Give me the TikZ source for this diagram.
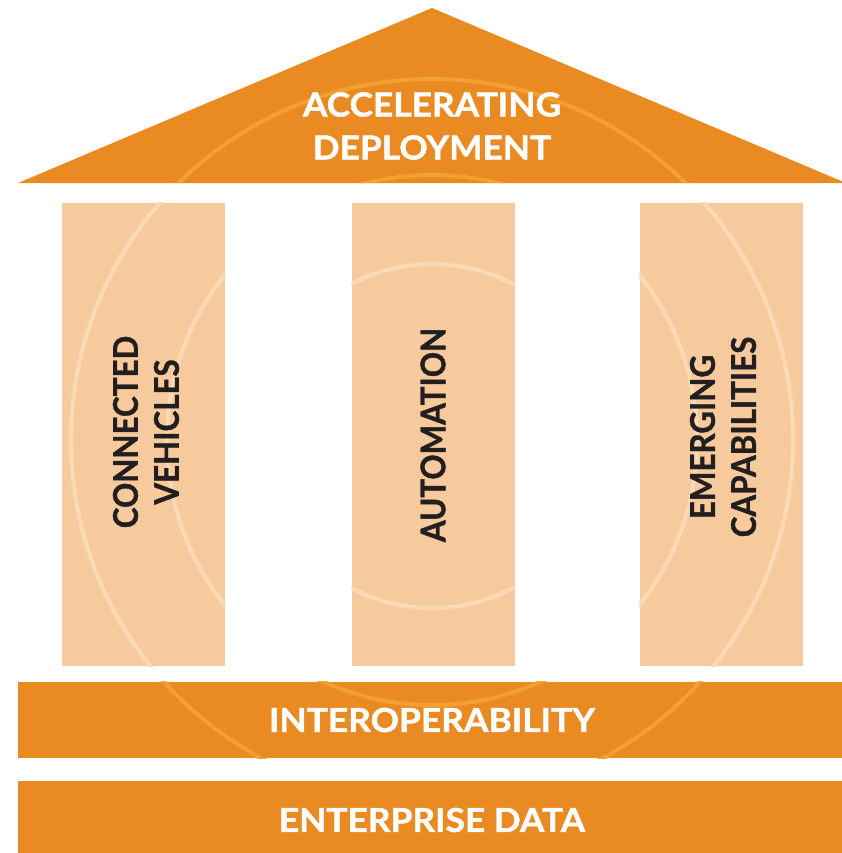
\documentclass[tikz,border=0pt]{standalone}
\usepackage{fontspec}
\setmainfont{Lato}[BoldFeatures={FakeBold=1.2}]
\definecolor{org}{HTML}{E98A22}
\definecolor{peach}{HTML}{F6CA9C}
\definecolor{ringorg}{HTML}{F2A030}
\definecolor{ringpeach}{HTML}{F9D9B6}
\definecolor{ink}{HTML}{231F20}
\newcommand{\myrings}[1]{%
  \draw[#1, line width=4pt] (432,436) circle[radius=172];
  \draw[#1, line width=4pt] (432,440) circle[radius=265];
  \draw[#1, line width=4pt] (432,440) circle[radius=361];}
\newcommand{\wx}[1]{\scalebox{1.07}[1]{#1}}
\newcommand{\px}[1]{\scalebox{0.92}[1]{#1}}
\begin{document}
\begin{tikzpicture}[x=1pt,y=-1pt,
  pillar/.style={fill=peach, draw=none, minimum width=163pt, minimum height=463pt, inner sep=0pt},
  band/.style={fill=org, draw=none, minimum width=825pt, inner sep=0pt},
  wlabel/.style={text=white, font=\fontsize{33}{43}\selectfont\bfseries, align=center, inner sep=0pt},
  plabel/.style={text=ink, font=\fontsize{34}{41}\selectfont\bfseries, align=center, rotate=90, inner sep=0pt}]
\useasboundingbox (0,0) rectangle (842,853);
\fill[white] (0,0) rectangle (842,853);
% roof
\fill[org] (432,8) -- (18,183) -- (846,183) -- cycle;
\begin{scope}
  \clip (432,8) -- (18,183) -- (846,183) -- cycle;
  \myrings{ringorg}
\end{scope}
% pillars
\node[pillar] (p1) at (143.5,434.5) {};
\node[pillar] (p2) at (433,434.5) {};
\node[pillar] (p3) at (721,434.5) {};
\foreach \p in {p1,p2,p3}{
  \begin{scope}
    \clip (\p.south west) rectangle (\p.north east);
    \myrings{ringpeach}
  \end{scope}}
% bands
\node[band, minimum height=76pt] (interop) at (430.5,720) {};
\node[band, minimum height=73pt] (enterprise) at (430.5,817.5) {};
\begin{scope}
  \clip (interop.south west) rectangle (interop.north east);
  \myrings{ringorg}
\end{scope}
% labels
\node[wlabel] (roof) at (432,126) {\wx{ACCELERATING}\\\wx{DEPLOYMENT}};
\node[plabel] (cv) at (146,432) {\px{CONNECTED}\\\px{VEHICLES}};
\node[plabel] (auto) at (433,435) {\px{AUTOMATION}};
\node[plabel] (ec) at (723,437) {\px{EMERGING}\\\px{CAPABILITIES}};
\node[wlabel] (iotext) at (432,720) {\wx{INTEROPERABILITY}};
\node[wlabel] (edtext) at (432,820) {\wx{ENTERPRISE DATA}};
\end{tikzpicture}
\end{document}
